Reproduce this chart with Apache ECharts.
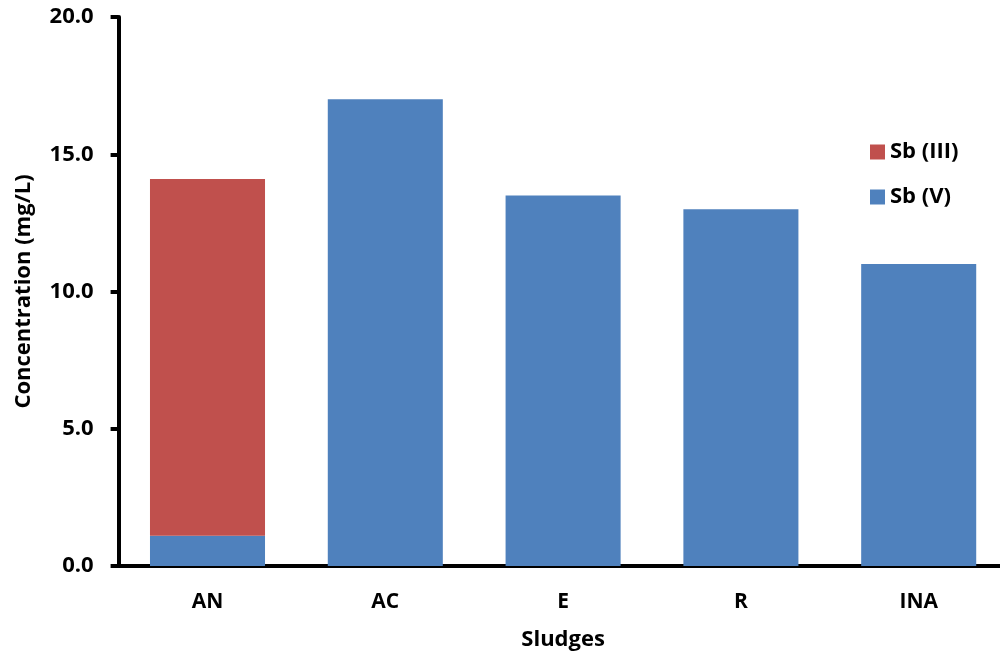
<!DOCTYPE html>
<html>
<head>
<meta charset="utf-8">
<script src="https://cdn.jsdelivr.net/npm/echarts@6/dist/echarts.min.js"></script>
<style>
  html, body { margin: 0; padding: 0; background: #fff; overflow: hidden; }
  #chart { width: 1010px; height: 657px; }
</style>
</head>
<body>
<div id="chart"></div>
<script>
// Sludge types along the x axis
const categories = ['AN', 'AC', 'E', 'R', 'INA'];
// Concentrations in mg/L
const sbV = [1.1, 17.0, 13.5, 13.0, 11.0];
const sbIII = [13.0, 0, 0, 0, 0];
const yTicks = { min: 0, max: 20, interval: 5 };

const FONT = '"Open Sans", sans-serif';
const chart = echarts.init(document.getElementById('chart'));

chart.setOption({
  animation: false,
  backgroundColor: '#ffffff',
  grid: { left: 118.6, top: 17, width: 889, height: 549, containLabel: false },
  legend: {
    orient: 'vertical',
    left: 870, top: 141, padding: 0,
    itemWidth: 15, itemHeight: 15, itemGap: 23,
    icon: 'rect',
    data: ['Sb (III)', 'Sb (V)'],
    textStyle: { fontFamily: FONT, fontWeight: 'bold', fontSize: 22, color: '#000' }
  },
  xAxis: {
    type: 'category',
    data: categories,
    name: 'Sludges',
    nameLocation: 'middle',
    nameGap: 63,
    nameTextStyle: { fontFamily: FONT, fontWeight: 'bold', fontSize: 22, color: '#000' },
    axisLine: { lineStyle: { color: '#000', width: 4 } },
    axisTick: { show: false },
    axisLabel: { margin: 26, fontFamily: FONT, fontWeight: 'bold', fontSize: 21, color: '#000' }
  },
  yAxis: {
    type: 'value',
    min: yTicks.min, max: yTicks.max, interval: yTicks.interval,
    name: 'Concentration (mg/L)',
    nameLocation: 'middle',
    nameGap: 84,
    nameTextStyle: { fontFamily: FONT, fontWeight: 'bold', fontSize: 22, color: '#000' },
    axisLine: { show: true, lineStyle: { color: '#000', width: 4 } },
    axisTick: { show: true, inside: false, length: 8, lineStyle: { color: '#000', width: 4 } },
    splitLine: { show: false },
    axisLabel: {
      margin: 25,
      fontFamily: FONT, fontWeight: 'bold', fontSize: 22, color: '#000',
      formatter: v => v.toFixed(1)
    }
  },
  series: [
    {
      name: 'Sb (V)', type: 'bar', stack: 'total',
      data: sbV, barWidth: '64.7%',
      itemStyle: { color: '#4F81BD' }
    },
    {
      name: 'Sb (III)', type: 'bar', stack: 'total',
      data: sbIII, barWidth: '64.7%',
      itemStyle: { color: '#C0504D' }
    }
  ]
});
</script>
</body>
</html>
